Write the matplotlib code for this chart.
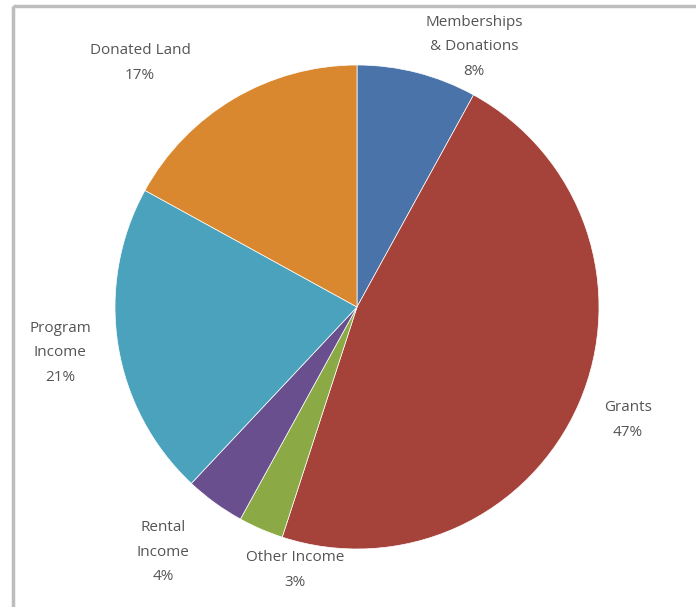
import matplotlib
matplotlib.use("Agg")
import matplotlib.pyplot as plt

# Revenue breakdown
categories = ["Memberships\n& Donations", "Grants", "Other Income",
              "Rental\nIncome", "Program\nIncome", "Donated Land"]
shares = [8, 47, 3, 4, 21, 17]
colors = ["#4A73AA", "#A5423A", "#8BAA46", "#6A4F8E", "#4BA2BD", "#D9882F"]

# label centres in pixels (x, y from top)
label_pos = [(474, 47), (628, 420), (295, 570), (163, 552), (60, 353), (140, 63)]

W, H = 696, 607
fig = plt.figure(figsize=(W / 100, H / 100), dpi=100)
ax = fig.add_axes([0, 0, 1, 1])

ax.pie(shares, colors=colors, startangle=90, counterclock=False,
       center=(357, H - 307), radius=242, frame=True,
       wedgeprops=dict(linewidth=0.5, edgecolor="white"))
ax.set_xlim(0, W)
ax.set_ylim(0, H)
ax.set_aspect("equal")
ax.axis("off")

for name, val, (x, y) in zip(categories, shares, label_pos):
    ax.text(x, H - y, f"{name}\n{val}%", ha="center", va="center",
            fontsize=11, color="#555555", family="Open Sans",
            linespacing=1.85)

# chart border (only top and left visible)
ax.plot([12.5, W], [H - 5.5, H - 5.5], color="#BDBDBD", lw=2.5, solid_capstyle="butt")
ax.plot([12.5, 12.5], [0, H - 5.5], color="#BDBDBD", lw=2.5, solid_capstyle="butt")

fig.savefig("out.png", dpi=100)
